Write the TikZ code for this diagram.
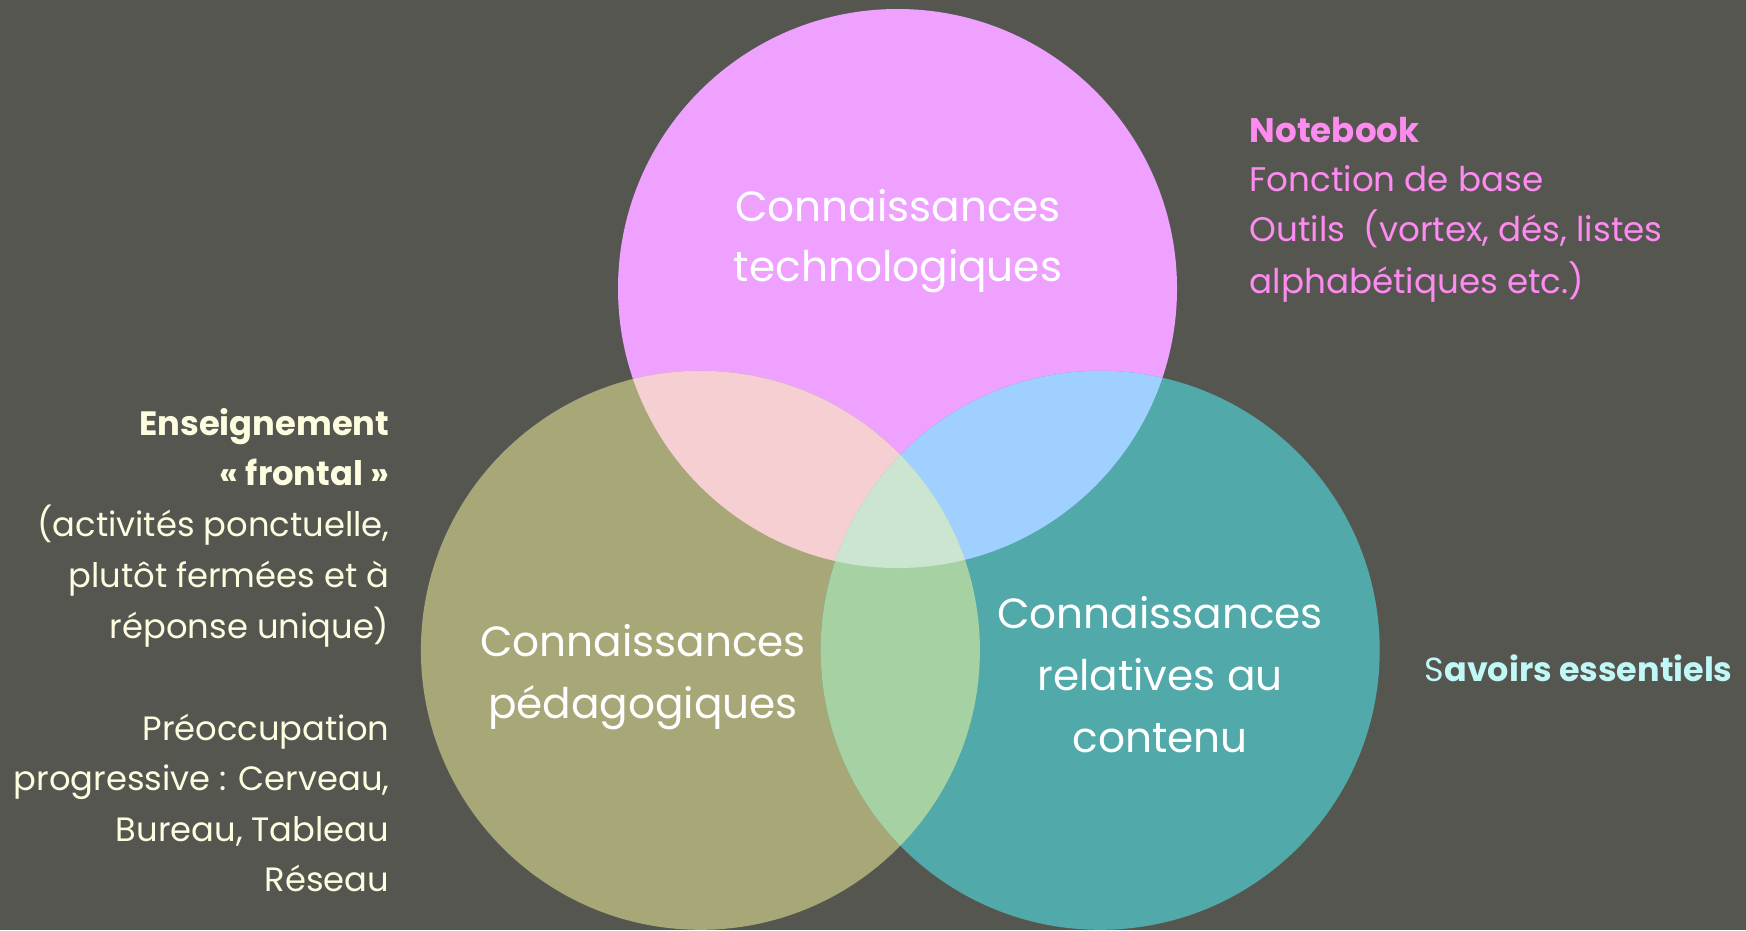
\documentclass[tikz,border=0pt]{standalone}
\usepackage{fontspec}
\setmainfont{Poppins}
\usepackage{tikz}

\definecolor{bg}{HTML}{565651}
\definecolor{techno}{HTML}{EFA1FF}
\definecolor{pedago}{HTML}{A8A777}
\definecolor{contenu}{HTML}{52A9A9}
\definecolor{techpeda}{HTML}{F5CFD2}
\definecolor{techcont}{HTML}{A0D0FF}
\definecolor{pedacont}{HTML}{A6D1A2}
\definecolor{tous}{HTML}{CCE5D0}
\definecolor{rose}{HTML}{FD8BF0}
\definecolor{creme}{HTML}{FFFDE0}
\definecolor{cyan}{HTML}{C0F8F8}

\tikzset{
  incircle/.style={white, anchor=base, inner sep=0pt, font=\fontsize{12}{15}\selectfont},
  notes/.style={anchor=base west, inner sep=0pt, font=\fontsize{9.7}{12}\selectfont},
  leftnotes/.style={creme, anchor=base east, inner sep=0pt, font=\fontsize{9.6}{12}\selectfont}
}

\begin{document}
\begin{tikzpicture}[x=0.01cm, y=-0.01cm]
        \useasboundingbox (0, 0) rectangle (1746, 930);
        \fill [bg] (0, 0) rectangle (1746, 930);

        \coordinate (T) at (897.5, 288.5);
        \coordinate (L) at (700.4, 650.3);
        \coordinate (R) at (1100.2, 650.3);

        \fill [techno] (T) circle [radius=279.5];
        \fill [pedago] (L) circle [radius=279.5];
        \fill [contenu] (R) circle [radius=279.5];
        \begin{scope}
            \clip (T) circle [radius=279.5];
            \fill [techpeda] (L) circle [radius=279.5];
            \fill [techcont] (R) circle [radius=279.5];
        \end{scope}
        \begin{scope}
            \clip (L) circle [radius=279.5];
            \fill [pedacont] (R) circle [radius=279.5];
            \clip (T) circle [radius=279.5];
            \fill [tous] (R) circle [radius=279.5];
        \end{scope}

        \node [incircle] (t1) at (898, 221.7) {Connaissances};
        \node [incircle] (t2) at (898, 281.7) {technologiques};
        \node [incircle] (p1) at (643, 656.7) {Connaissances};
        \node [incircle] (p2) at (643, 718) {pédagogiques};
        \node [incircle] (c1) at (1160, 628) {Connaissances};
        \node [incircle] (c2) at (1160, 690) {relatives au};
        \node [incircle] (c3) at (1160, 752) {contenu};

        \node [notes, rose] (nb) at (1249, 142.7) {\textbf{Notebook}};
        \node [notes, rose] (fb) at (1249, 191.7) {Fonction de base};
        \node [notes, rose] (ou) at (1249, 241.7) {Outils\ \ (vortex, dés, listes};
        \node [notes, rose] (al) at (1249, 293) {alphabétiques etc.)};

        \node [notes, cyan, font=\fontsize{9.5}{12}\selectfont] (se) at (1424, 681.7) {S\textbf{avoirs essentiels}};

        \node [leftnotes] (e1) at (390, 435) {\textbf{Enseignement}};
        \node [leftnotes] (e2) at (390, 485) {\textbf{« frontal »}};
        \node [leftnotes] (e3) at (390, 536) {(activités ponctuelle,};
        \node [leftnotes] (e4) at (390, 587) {plutôt fermées et à};
        \node [leftnotes] (e5) at (390, 638) {réponse unique)};
        \node [leftnotes] (r1) at (390, 740) {Préoccupation};
        \node [leftnotes] (r2) at (390, 790) {progressive : Cerveau,};
        \node [leftnotes] (r3) at (390, 841) {Bureau, Tableau};
        \node [leftnotes] (r4) at (390, 891) {Réseau};
\end{tikzpicture}
\end{document}
